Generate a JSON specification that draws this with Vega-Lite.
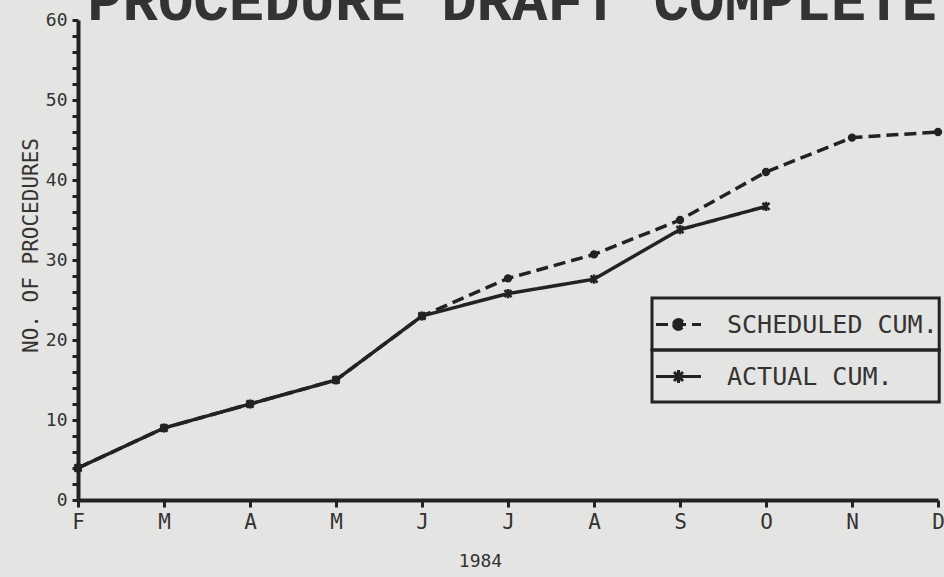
{
  "$schema": "https://vega.github.io/schema/vega-lite/v6.json",
  "autosize": {"type": "none"},
  "padding": {"left": 78, "top": 20, "right": 6, "bottom": 77},
  "width": 860,
  "height": 480,
  "background": "#e4e4e2",
  "data": {
    "values": [
      {"month": "Feb", "series": "SCHEDULED CUM.", "value": 4},
      {"month": "Mar", "series": "SCHEDULED CUM.", "value": 9},
      {"month": "Apr", "series": "SCHEDULED CUM.", "value": 12},
      {"month": "May", "series": "SCHEDULED CUM.", "value": 15},
      {"month": "Jun", "series": "SCHEDULED CUM.", "value": 23},
      {"month": "Jul", "series": "SCHEDULED CUM.", "value": 27.7},
      {"month": "Aug", "series": "SCHEDULED CUM.", "value": 30.7},
      {"month": "Sep", "series": "SCHEDULED CUM.", "value": 35},
      {"month": "Oct", "series": "SCHEDULED CUM.", "value": 41},
      {"month": "Nov", "series": "SCHEDULED CUM.", "value": 45.3},
      {"month": "Dec", "series": "SCHEDULED CUM.", "value": 46},
      {"month": "Feb", "series": "ACTUAL CUM.", "value": 4},
      {"month": "Mar", "series": "ACTUAL CUM.", "value": 9},
      {"month": "Apr", "series": "ACTUAL CUM.", "value": 12},
      {"month": "May", "series": "ACTUAL CUM.", "value": 15},
      {"month": "Jun", "series": "ACTUAL CUM.", "value": 23},
      {"month": "Jul", "series": "ACTUAL CUM.", "value": 25.8},
      {"month": "Aug", "series": "ACTUAL CUM.", "value": 27.6},
      {"month": "Sep", "series": "ACTUAL CUM.", "value": 33.8},
      {"month": "Oct", "series": "ACTUAL CUM.", "value": 36.7}
    ]
  },
  "encoding": {
    "x": {
      "field": "month",
      "type": "ordinal",
      "scale": {"type": "point", "padding": 0, "domain": ["Feb","Mar","Apr","May","Jun","Jul","Aug","Sep","Oct","Nov","Dec"]},
      "axis": {
        "title": "1984",
        "labelExpr": "substring(datum.label, 0, 1)",
        "labelAngle": 0,
        "grid": false,
        "tickSize": 7,
        "labelPadding": 4,
        "titleX": 402,
        "titlePadding": 20
      }
    },
    "y": {
      "field": "value",
      "type": "quantitative",
      "scale": {"domain": [0, 60], "nice": false},
      "axis": {
        "title": "NO. OF PROCEDURES",
        "values": [0,2,4,6,8,10,12,14,16,18,20,22,24,26,28,30,32,34,36,38,40,42,44,46,48,50,52,54,56,58,60],
        "labelExpr": "datum.value % 10 == 0 ? datum.label : ''",
        "grid": false,
        "tickSize": 6,
        "labelPadding": 5,
        "titlePadding": 4,
        "titleFontSize": 21,
        "titleY": 225
      }
    }
  },
  "layer": [
    {
      "transform": [{"filter": "datum.month === 'Jul' && datum.series === 'ACTUAL CUM.'"}],
      "mark": {"type": "text", "text": "PROCEDURE DRAFT COMPLETE", "font": "Liberation Mono", "fontSize": 59, "fontWeight": "bold", "baseline": "alphabetic", "align": "center", "color": "#333333", "dx": 4},
      "encoding": {"x": {"datum": "Jul"}, "y": {"datum": 60}}
    },
    {
      "mark": {"type": "line", "strokeWidth": 3.5},
      "encoding": {
        "color": {
          "field": "series",
          "type": "nominal",
          "scale": {"domain": ["SCHEDULED CUM.", "ACTUAL CUM."], "range": ["#222222", "#222222"]},
          "legend": {
            "orient": "none",
            "legendX": 574,
            "legendY": 278,
            "title": null,
            "padding": 0,
            "rowPadding": 0,
            "labelFont": "DejaVu Sans Mono",
            "labelFontSize": 25,
            "labelColor": "#333333",
            "labelLimit": 0,
            "labelOffset": 22,
            "symbolSize": 2500,
            "symbolStrokeWidth": 3,
            "encode": {
              "entries": {"update": {"stroke": {"value": "#222222"}, "strokeWidth": {"value": 3}}},
              "symbols": {"update": {
                "shape": {"signal": "datum.label === 'SCHEDULED CUM.' ? 'M0,-0.72M0,0.72M-0.9,0H0.9M-0.2,0A0.2,0.2 0 1,0 0.2,0A0.2,0.2 0 1,0 -0.2,0Z' : 'M0,-0.72M0,0.72M-0.9,0H0.9M-0.18,-0.18L0.18,0.18M-0.18,0.18L0.18,-0.18M0,-0.26V0.26'"},
                "fill": {"value": "#222222"},
                "stroke": {"value": "#222222"},
                "strokeWidth": {"value": 3}
              }}
            }
          }
        },
        "strokeDash": {
          "field": "series",
          "type": "nominal",
          "scale": {"domain": ["SCHEDULED CUM.", "ACTUAL CUM."], "range": [[12, 6], [1, 0]]},
          "legend": null
        }
      }
    },
    {
      "transform": [{"filter": "datum.series === 'SCHEDULED CUM.'"}],
      "mark": {"type": "point", "shape": "circle", "filled": true, "size": 70, "color": "#222222", "opacity": 1}
    },
    {
      "transform": [{"filter": "datum.series === 'ACTUAL CUM.'"}],
      "mark": {"type": "point", "shape": "M-1,-1L1,1M-1,1L1,-1M0,-1.3V1.3", "filled": false, "size": 50, "strokeWidth": 2.5, "color": "#222222", "opacity": 1}
    }
  ],
  "config": {
    "view": {"stroke": null},
    "axis": {
      "domainColor": "#222222",
      "domainWidth": 4,
      "tickColor": "#222222",
      "tickWidth": 3,
      "labelFont": "DejaVu Sans Mono",
      "labelFontSize": 18,
      "labelColor": "#333333",
      "titleFont": "DejaVu Sans Mono",
      "titleFontSize": 18,
      "titleFontWeight": "normal",
      "titleColor": "#333333"
    },
    "axisX": {"labelFontSize": 21}
  }
}
